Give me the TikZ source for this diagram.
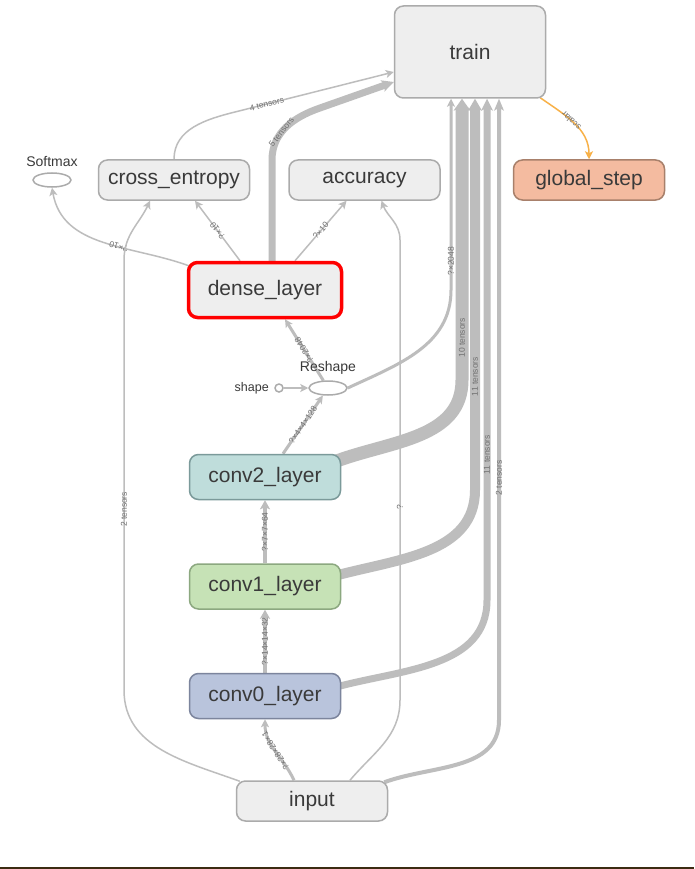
\documentclass[tikz,border=0pt]{standalone}
\usepackage{fontspec}
\setmainfont{Liberation Sans}
\usetikzlibrary{arrows.meta,positioning,calc,shapes.geometric}
\definecolor{nodefill}{HTML}{EEEEEE}
\definecolor{nodeline}{HTML}{ABABAB}
\definecolor{textgray}{HTML}{3A3A3A}
\definecolor{edgegray}{HTML}{BDBDBD}
\definecolor{labelgray}{HTML}{707070}
\definecolor{convtwofill}{HTML}{BFDDDB}
\definecolor{convtwoline}{HTML}{7B9A9A}
\definecolor{convonefill}{HTML}{C6E2B6}
\definecolor{convoneline}{HTML}{8CA880}
\definecolor{convzerofill}{HTML}{B9C4DC}
\definecolor{convzeroline}{HTML}{7C859D}
\definecolor{stepfill}{HTML}{F4BBA0}
\definecolor{stepline}{HTML}{A8806B}
\definecolor{scalarline}{HTML}{F8B148}
\definecolor{pageline}{HTML}{3B2B12}
\pgfdeclarelayer{edges}
\pgfsetlayers{edges,main}
\tikzset{
  opbox/.style={draw=nodeline, fill=nodefill, rounded corners=9pt, line width=1.5pt,
    minimum width=151pt, minimum height=40pt, inner sep=0pt, text=textgray,
    font=\fontsize{21}{24}\selectfont},
  convbox/.style={opbox, minimum height=45pt},
  opdot/.style={ellipse, draw=nodeline, fill=white, line width=1.5pt,
    minimum width=38pt, minimum height=14pt, inner sep=0pt},
  oplabel/.style={font=\fontsize{14}{16}\selectfont, text=textgray},
  flow/.style={draw=edgegray, line width=1.5pt, -{Stealth[length=8pt,width=8pt,inset=2pt]}},
  fat/.style={draw=edgegray, -{Stealth[length=12pt,width=#1,inset=3pt,line width=0pt]}},
  elabel/.style={sloped, allow upside down, font=\fontsize{8.5}{9}\selectfont,
    text=labelgray, inner sep=1pt}
}
\begin{document}
\begin{tikzpicture}[x=1pt,y=1pt]
  \useasboundingbox (0,0) rectangle (694,-869);
  % nodes
  \node[opbox, minimum height=92pt] (train) at (470,-52) {train};
  \node[opbox, fill=stepfill, draw=stepline] (gstep) at (589,-180) {global\_step};
  \node[opbox] (xent) at (174,-180) {cross\_entropy};
  \node[opbox, right=38pt of xent] (acc) {accuracy};
  \node[opdot, label={[oplabel, label distance=2pt]above:Softmax}] (softmax) at (52,-180) {};
  \node[opbox, minimum width=153pt, minimum height=55pt, draw=red, line width=3.5pt] (dense) at (265,-290) {dense\_layer};
  \node[opdot, label={[oplabel, label distance=2pt]above:Reshape}] (reshape) at (328,-388) {};
  \node[circle, draw=nodeline, fill=white, line width=1.5pt, minimum size=8pt, inner sep=0pt,
    label={[oplabel, font=\fontsize{12.5}{14}\selectfont, label distance=2pt]left:shape}] (shape) at (279,-388) {};
  \node[convbox, fill=convzerofill, draw=convzeroline] (conv0) at (265,-696) {conv0\_layer};
  \node[convbox, fill=convonefill, draw=convoneline, above=63pt of conv0] (conv1) {conv1\_layer};
  \node[convbox, fill=convtwofill, draw=convtwoline, above=63pt of conv1] (conv2) {conv2\_layer};
  \node[opbox] (input) at (312,-801) {input};

  \begin{pgfonlayer}{edges}
    \fill[white] (0,0) rectangle (694,-869);
    % main chain
    \draw[flow, line width=3pt] ($(input.north)+(-18,0)$) to[out=115,in=-90]
      node[elabel, pos=0.5] {?×28×28×1} (conv0.south);
    \draw[flow, line width=4pt, -{Stealth[length=9pt,width=10pt,inset=2pt]}] (conv0) -- node[elabel] {?×14×14×32} (conv1);
    \draw[flow, line width=4pt, -{Stealth[length=9pt,width=10pt,inset=2pt]}] (conv1) -- node[elabel] {?×7×7×64} (conv2);
    \draw[flow, line width=3pt] ($(conv2.north)+(18,0)$) -- node[elabel] {?×4×4×128} (reshape);
    \draw[flow] (shape) -- (reshape);
    \draw[flow, line width=3pt] (reshape) -- node[elabel] {?×2048} ($(dense.south)+(20,0)$);
    \draw[flow, line width=3pt] (reshape.east) to[out=25,in=-90] (451,-290)
      -- node[elabel, pos=0.15] {?×2048} ($(train.south)+(-19,0)$);
    % into train
    \draw[fat=17pt, line width=13pt] ($(conv2.north east)+(-4,-7)$) to[out=20,in=-90] (462,-380)
      -- node[elabel, pos=0.15] {10 tensors} ($(train.south)+(-8,0)$);
    \draw[fat=14pt, line width=10pt] ($(conv1.north east)+(-4,-12)$) to[out=15,in=-90] (475,-490)
      -- node[elabel, pos=0.29] {11 tensors} ($(train.south)+(5,0)$);
    \draw[fat=12pt, line width=7pt] ($(conv0.north east)+(-4,-14)$) to[out=15,in=-90] (487,-600)
      -- node[elabel, pos=0.29] {11 tensors} ($(train.south)+(17,0)$);
    \draw[fat=10pt, line width=4pt] ($(input.north east)+(-4,-2)$) to[out=20,in=-90] (499,-720)
      -- node[elabel, pos=0.39] {2 tensors} ($(train.south)+(29,0)$);
    \draw[fat=12pt, line width=7pt] ($(dense.north)+(7,0)$) -- (272,-160) to[out=90,in=199]
      node[elabel, pos=0.4] {5 tensors} (320,-108) -- ($(train.west)+(0,-30)$);
    \draw[flow] (xent.north) to[out=90,in=194] (235,-112)
      -- node[elabel, pos=0.2] {4 tensors} ($(train.west)+(0,-20)$);
    % dense outputs
    \draw[flow] ($(dense.north west)+(2,-5)$) to[out=160,in=-80]
      node[elabel, pos=0.4] {?×10} (softmax.south);
    \draw[flow] ($(dense.north)+(-25,0)$) -- node[elabel] {?×10} ($(xent.south)+(21,0)$);
    \draw[flow] ($(dense.north)+(30,0)$) -- node[elabel] {?×10} ($(acc.south)+(-18,0)$);
    % input to losses
    \draw[flow] ($(input.north west)+(4,-1)$) to[out=160,in=-90] (124,-690)
      -- node[elabel, pos=0.42] {2 tensors} (124,-260) to[out=90,in=-115] ($(xent.south)+(-24,0)$);
    \draw[flow] ($(input.north)+(38,0)$) to[out=50,in=-90] (400,-700)
      -- node[elabel, pos=0.42] {?} (400,-240) to[out=90,in=-70] ($(acc.south)+(17,0)$);
    % global step
    \draw[flow, draw=scalarline] ($(train.south east)+(-6,1)$) to[out=-35,in=90]
      node[elabel, rotate=180, pos=0.45] {scalar} (gstep.north);
  \end{pgfonlayer}
  \draw[line width=2pt, draw=pageline] (0,-867.5) -- (694,-867.5);
\end{tikzpicture}
\end{document}
